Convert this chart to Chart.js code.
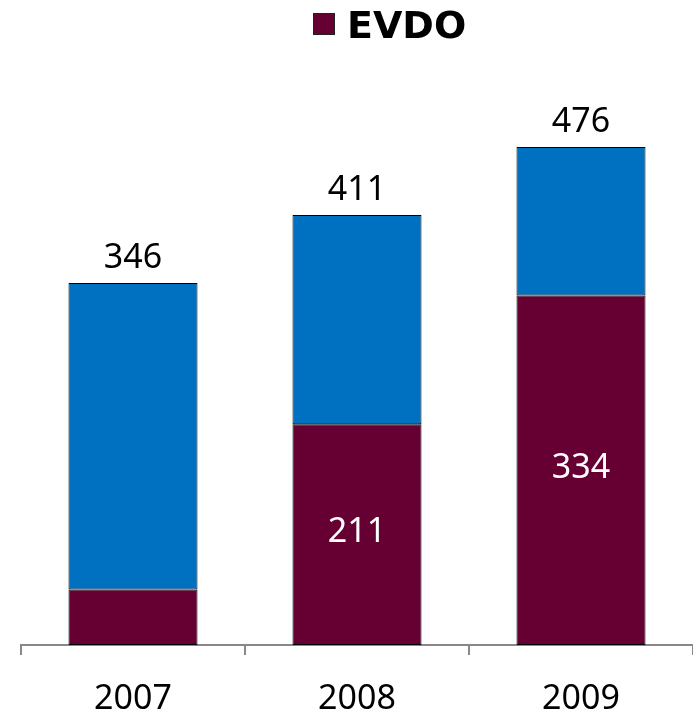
<!DOCTYPE html>
<html>
<head>
<meta charset="utf-8">
<script src="https://cdn.jsdelivr.net/npm/chart.js@4.4.0/dist/chart.umd.min.js"></script>
<style>
  html, body { margin: 0; padding: 0; background: #fff; }
  #wrap { width: 693px; height: 717px; }
</style>
</head>
<body>
<div id="wrap"><canvas id="evdoChart"></canvas></div>
<script>
// data
const years = ["2007", "2008", "2009"];
const evdo = [53, 211, 334];
const other = [293, 200, 142];
const totals = [346, 411, 476];
const evdoLabels = ["", "211", "334"];

const labelFont = '34px "Noto Sans", "Open Sans", sans-serif';

// value labels: totals above each bar, EVDO inside the maroon part
const barLabels = {
  id: 'barLabels',
  afterDatasetsDraw(chart) {
    const ctx = chart.ctx;
    const evdoMeta = chart.getDatasetMeta(0);
    const otherMeta = chart.getDatasetMeta(1);
    ctx.save();
    ctx.font = labelFont;
    ctx.textAlign = 'center';
    otherMeta.data.forEach((bar, i) => {
      ctx.fillStyle = '#000';
      ctx.textBaseline = 'alphabetic';
      ctx.fillText(totals[i], bar.x, bar.y - 15);
    });
    evdoMeta.data.forEach((bar, i) => {
      if (!evdoLabels[i]) return;
      ctx.fillStyle = '#fff';
      ctx.textBaseline = 'middle';
      ctx.fillText(evdoLabels[i], bar.x, (bar.y + bar.base) / 2 - 2);
    });
    ctx.restore();
  }
};

// legend shows only the EVDO series
const evdoLegend = {
  id: 'evdoLegend',
  afterDraw(chart) {
    const ctx = chart.ctx;
    const ds = chart.data.datasets[0];
    ctx.save();
    ctx.fillStyle = ds.backgroundColor;
    ctx.fillRect(313, 13, 22, 22);
    ctx.strokeStyle = '#222';
    ctx.lineWidth = 1;
    ctx.strokeRect(313.5, 13.5, 21, 21);
    ctx.fillStyle = '#000';
    ctx.font = 'bold 38px "DejaVu Sans", Verdana, sans-serif';
    ctx.textAlign = 'left';
    ctx.textBaseline = 'alphabetic';
    ctx.fillText(ds.label, 347, 38);
    ctx.restore();
  }
};

const ctx = document.getElementById('evdoChart').getContext('2d');
new Chart(ctx, {
  type: 'bar',
  data: {
    labels: years,
    datasets: [{
      label: 'EVDO',
      data: evdo,
      backgroundColor: '#660033',
      borderColor: '#000',
      borderWidth: 1,
      borderSkipped: false,
    }, {
      label: 'Other',
      data: other,
      backgroundColor: '#0070C0',
      borderColor: '#000',
      borderWidth: 1,
      borderSkipped: false,
    }]
  },
  options: {
    responsive: true,
    maintainAspectRatio: false,
    animation: false,
    layout: { padding: { left: 21, right: 0, top: 59, bottom: 0 } },
    datasets: { bar: { barPercentage: 0.576, categoryPercentage: 1 } },
    plugins: {
      tooltip: { enabled: false },
      legend: { display: false }
    },
    scales: {
      x: {
        stacked: true,
        afterFit(scale) { scale.height = 72; },
        grid: {
          offset: true,
          drawOnChartArea: false,
          drawTicks: true,
          tickLength: 10,
          color: '#888',
          lineWidth: 2
        },
        border: { display: true, color: '#888', width: 2 },
        ticks: { color: '#000', font: { family: '"Noto Sans", "Open Sans", sans-serif', size: 34 }, padding: 24 }
      },
      y: {
        stacked: true,
        display: false,
        min: 0,
        max: 560
      }
    }
  },
  plugins: [barLabels, evdoLegend]
});
</script>
</body>
</html>
